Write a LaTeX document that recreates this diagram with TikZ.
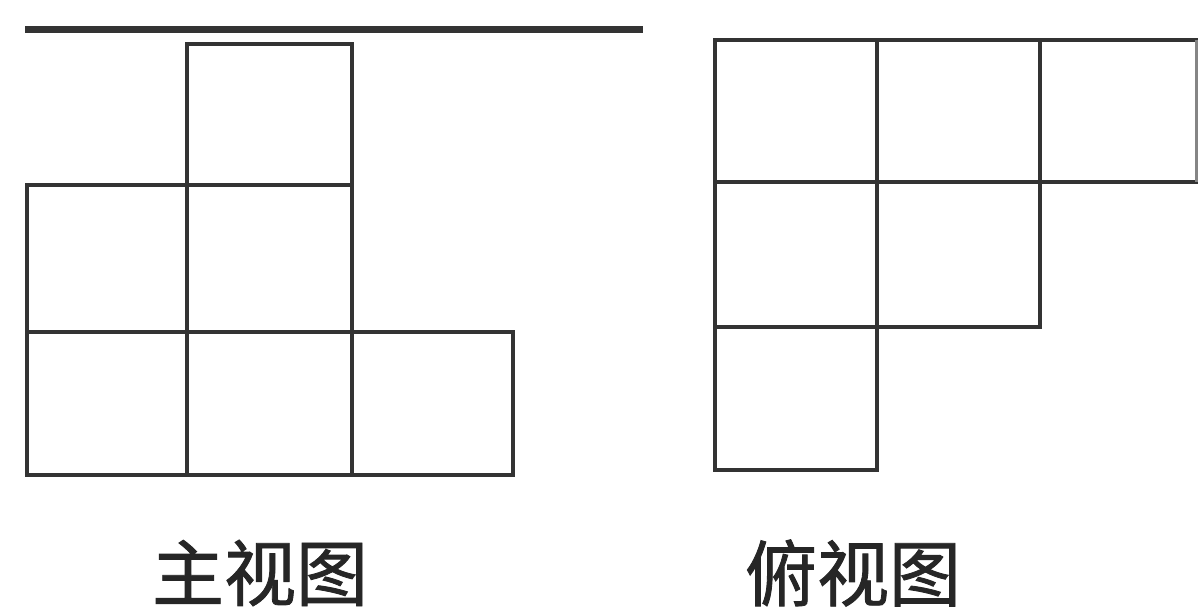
\documentclass[tikz,border=0pt]{standalone}
\usepackage{fontspec}
\newfontfamily\cjk[FakeBold=1.2]{Noto Sans CJK SC}
\definecolor{ln}{HTML}{333333}
\tikzset{gridline/.style={draw=ln,line width=4.5pt,line cap=rect},
  lbl/.style={font=\cjk\fontsize{72}{78}\selectfont,text=black!85,inner sep=0pt}}
\begin{document}
\begin{tikzpicture}[x=1pt,y=-1pt]
\useasboundingbox (0,0) rectangle (1198,609);
\fill[white] (0,0) rectangle (1198,609);
\begin{scope}
\clip (0,0) rectangle (1198,609);
% top line
\draw[draw=ln,line width=7pt] (25,30) -- (643,30);
% main view
\draw[gridline] (187,44) rectangle (352,185);
\draw[gridline] (27,185) rectangle (352,332);
\draw[gridline] (187,185) -- (187,332);
\draw[gridline] (27,332) rectangle (513,475);
\draw[gridline] (187,332) -- (187,475);
\draw[gridline] (352,332) -- (352,475);
% top view
\draw[gridline] (715,40) -- (1200,40);
\draw[gridline] (715,40) -- (715,470) -- (877,470) -- (877,40);
\draw[gridline] (1040,40) -- (1040,327) -- (715,327);
\draw[gridline] (715,182) -- (1200,182);
\draw[draw=ln!60,line width=3pt] (1196,40) -- (1196,182);
\end{scope}
\node[lbl] (main) at (260,573) {主视图};
\node[lbl] (top) at (853,573) {俯视图};
\end{tikzpicture}
\end{document}
